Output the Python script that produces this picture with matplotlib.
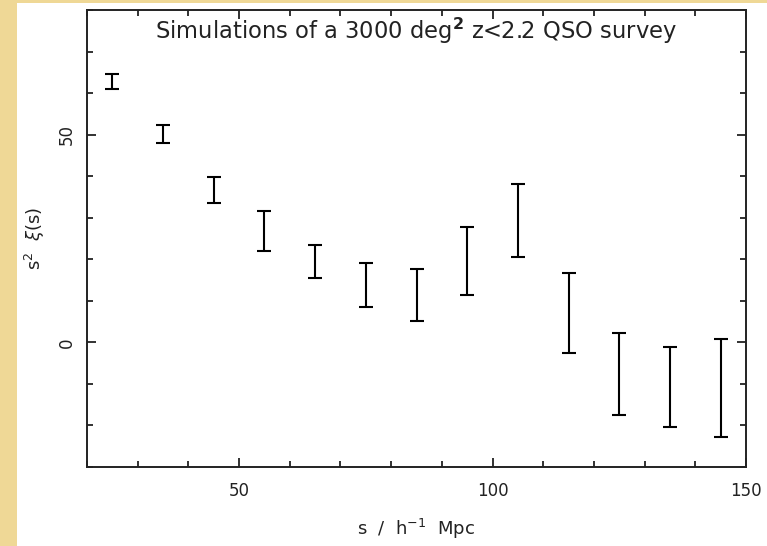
import matplotlib
matplotlib.use("Agg")
import matplotlib.pyplot as plt
from matplotlib.patches import Rectangle
from matplotlib.ticker import MultipleLocator
import numpy as np

# separation bins (h^-1 Mpc) and the top / bottom of each error bar in s^2 xi(s)
s_bins = [25, 35, 45, 55, 65, 75, 85, 95, 105, 115, 125, 135, 145]
err_top = [64.5, 52.4, 39.8, 31.7, 23.5, 19.2, 17.7, 27.8, 38.0, 16.8, 2.3, -1.0, 0.9]
err_bot = [61.1, 48.0, 33.6, 22.0, 15.4, 8.6, 5.2, 11.5, 20.6, -2.5, -17.5, -20.3, -22.7]

x = np.array(s_bins)
top = np.array(err_top)
bot = np.array(err_bot)
mid = (top + bot) / 2
half = (top - bot) / 2

W, H = 767, 546
fig = plt.figure(figsize=(W / 100, H / 100), dpi=100)
fig.patch.set_facecolor("white")

# beige slide background showing at left and top edges
fig.patches.append(Rectangle((0, 0), 17 / W, 1, transform=fig.transFigure,
                             facecolor="#efd896", edgecolor="none", zorder=-5))
fig.patches.append(Rectangle((0, 1 - 3 / H), 1, 3 / H, transform=fig.transFigure,
                             facecolor="#efd896", edgecolor="none", zorder=-5))

left, right, top_px, bottom_px = 87, 746, 10, 467
ax = fig.add_axes([left / W, 1 - bottom_px / H, (right - left) / W, (bottom_px - top_px) / H])

ax.errorbar(x, mid, yerr=half, fmt="none", ecolor="black", elinewidth=1.5,
            capsize=4.7, capthick=1.5)

ax.set_xlim(20, 150)
ax.set_ylim(-30, 80)
ax.xaxis.set_major_locator(MultipleLocator(50))
ax.xaxis.set_minor_locator(MultipleLocator(10))
ax.yaxis.set_major_locator(MultipleLocator(50))
ax.yaxis.set_minor_locator(MultipleLocator(10))
ax.tick_params(which="both", direction="in", top=True, right=True, width=1.3,
               labelsize=12, colors="#222222")
ax.tick_params(which="major", length=6.5)
ax.tick_params(axis="x", which="major", pad=11)
ax.tick_params(axis="y", which="major", pad=8)
ax.tick_params(which="minor", length=4.3)
for lab in ax.get_yticklabels():
    lab.set_rotation(90)
    lab.set_va("center")
for sp in ax.spines.values():
    sp.set_linewidth(1.4)
    sp.set_color("#222222")

ax.text(0.5, 1 - 21 / (bottom_px - top_px), r"Simulations of a 3000 deg$^{\mathbf{2}}$ z<2.2 QSO survey",
        transform=ax.transAxes, ha="center", va="center", fontsize=16.3, color="#222222")
ax.set_xlabel(r"s  /  h$^{-1}$  Mpc", fontsize=13, labelpad=12, color="#222222")
ax.set_ylabel(r"s$^2$  $\xi$(s)", fontsize=13, color="#222222")
ax.yaxis.set_label_coords(-(left - 47) / (right - left), 0.5)

fig.savefig("out.png", dpi=100)
